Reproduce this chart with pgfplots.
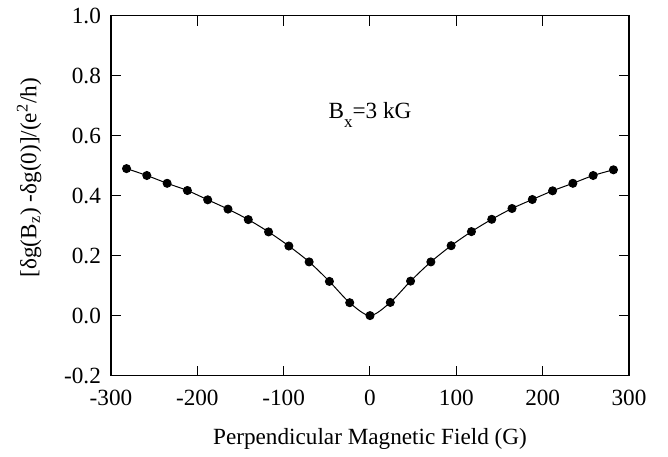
\documentclass[border=0pt]{standalone}
\usepackage{fontspec}
\setmainfont{Liberation Serif}
\usepackage{pgfplots}
\pgfplotsset{compat=1.18}
\usetikzlibrary{calc}

\begin{document}
\fontsize{11.6pt}{13.9pt}\selectfont
\begin{tikzpicture}
\begin{axis}[
  scale only axis,
  width=259pt, height=180pt,
  xmin=-300, xmax=300, ymin=-0.2, ymax=1.0,
  xtick={-300,-200,...,300},
  ytick={-0.2,0,0.2,0.4,0.6,0.8,1.0},
  tick align=inside, major tick length=5pt,
  tick style={black, line width=0.5pt},
  axis line style={line width=0.6pt},
  /pgf/number format/assume math mode=true,
  yticklabel style={/pgf/number format/fixed, /pgf/number format/fixed zerofill,
    /pgf/number format/precision=1, xshift=-1pt},
  xticklabel style={yshift=-3pt},
  xlabel={Perpendicular Magnetic Field (G)},
  ylabel={[δg(B\textsubscript{z}) -δg(0)]/(e\textsuperscript{2}/h)},
  xlabel style={at={(axis description cs:0.5,-0.175)}, anchor=center},
  ylabel style={at={(axis description cs:-0.158,0.55)}, anchor=center},
]
\addplot[black, line width=0.5pt, smooth, mark=*, mark size=2pt] coordinates {
  (-282,0.490) (-258.5,0.467) (-235,0.441) (-211.5,0.417) (-188,0.386)
  (-164.5,0.355) (-141,0.320) (-117.5,0.279) (-94,0.232) (-70.5,0.179)
  (-47,0.114) (-23.5,0.043) (0,0.000) (23.5,0.044) (47,0.115)
  (70.5,0.179) (94,0.233) (117.5,0.280) (141,0.321) (164.5,0.357)
  (188,0.387) (211.5,0.416) (235,0.441) (258.5,0.467) (282,0.486)
};
\node[anchor=base] at (axis cs:0,0.657) {B\raisebox{-4.5pt}{\fontsize{8.5pt}{9pt}\selectfont x}=3 kG};
\end{axis}
\path ($(current axis.south west)+(-55.5pt,-39pt)$) rectangle ($(current axis.north east)+(19.5pt,7.5pt)$);
\end{tikzpicture}
\end{document}
